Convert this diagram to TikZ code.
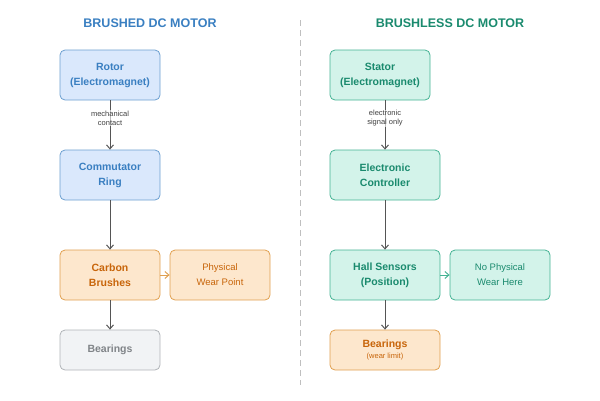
\documentclass[tikz,border=0pt]{standalone}
\usepackage{fontspec}
\setmainfont{Liberation Sans}
\usetikzlibrary{arrows.meta}
\definecolor{bfill}{HTML}{DAE8FC}\definecolor{bdraw}{HTML}{6C9FD0}\definecolor{btext}{HTML}{3A7FC1}
\definecolor{gfill}{HTML}{D3F3EA}\definecolor{gdraw}{HTML}{45B394}\definecolor{gtext}{HTML}{1A8A6E}
\definecolor{ofill}{HTML}{FDE7CD}\definecolor{odraw}{HTML}{E0A050}\definecolor{otext}{HTML}{C8650A}
\definecolor{kfill}{HTML}{F1F3F5}\definecolor{kdraw}{HTML}{B0B4B8}\definecolor{ktext}{HTML}{808488}
\definecolor{arr}{HTML}{555555}
\begin{document}
\begin{tikzpicture}[x=1pt,y=-1pt,
 box/.style={rounded corners=5pt,line width=0.8pt,align=center,inner sep=0pt,font=\fontsize{10.5}{15}\selectfont\bfseries},
 B/.style={box,fill=bfill,draw=bdraw,text=btext},
 G/.style={box,fill=gfill,draw=gdraw,text=gtext},
 O/.style={box,fill=ofill,draw=odraw,text=otext},
 K/.style={box,fill=kfill,draw=kdraw,text=ktext},
 side/.style={font=\fontsize{9.5}{15}\selectfont\mdseries},
 ar/.style={draw=arr,line width=1pt,-{Straight Barb[length=4pt,width=7pt]}},
 lab/.style={font=\fontsize{7.5}{9}\selectfont,text=black!75,align=center,fill=white,fill opacity=0.6,text opacity=1,inner sep=0.5pt}]
\useasboundingbox (0,0) rectangle (600,400);
\node[font=\fontsize{12.5}{14}\selectfont\bfseries,text=btext] (t1) at (150,23) {BRUSHED DC MOTOR};
\node[font=\fontsize{12.5}{14}\selectfont\bfseries,text=gtext] (t2) at (450,23) {BRUSHLESS DC MOTOR};
\draw[black!25,dashed,line width=1pt,dash pattern=on 6pt off 4pt] (300,20) -- (300,385);
\node[B,minimum width=100pt,minimum height=50pt] (r) at (110,75) {Rotor\\(Electromagnet)};
\node[B,minimum width=100pt,minimum height=50pt] (c) at (110,175) {Commutator\\Ring};
\node[O,minimum width=100pt,minimum height=50pt] (cb) at (110,275) {Carbon\\Brushes};
\node[O,side,minimum width=100pt,minimum height=50pt] (pw) at (220,275) {Physical\\Wear Point};
\node[K,minimum width=100pt,minimum height=40pt] (be) at (110,350) {Bearings};
\draw[ar] (r) -- (c) node[midway,lab,yshift=7pt] {mechanical\\contact};
\draw[ar] (c) -- (cb);
\draw[ar] (cb) -- (be);
\draw[ar,draw=odraw] (cb) -- (pw);
\node[G,minimum width=100pt,minimum height=50pt] (s) at (380,75) {Stator\\(Electromagnet)};
\node[G,minimum width=110pt,minimum height=50pt] (ec) at (385,175) {Electronic\\Controller};
\node[G,minimum width=110pt,minimum height=50pt] (h) at (385,275) {Hall Sensors\\(Position)};
\node[G,side,minimum width=100pt,minimum height=50pt] (nw) at (500,275) {No Physical\\Wear Here};
\node[O,minimum width=110pt,minimum height=40pt,font=\fontsize{10.5}{12}\selectfont\bfseries] (b2) at (385,350) {Bearings\\[-1pt]{\fontsize{7.5}{10}\selectfont\mdseries(wear limit)}};
\draw[ar] (s.south -| ec) -- (ec) node[midway,lab,yshift=7pt] {electronic\\signal only};
\draw[ar] (ec) -- (h);
\draw[ar] (h) -- (b2);
\draw[ar,draw=gdraw] (h) -- (nw);
\end{tikzpicture}
\end{document}
